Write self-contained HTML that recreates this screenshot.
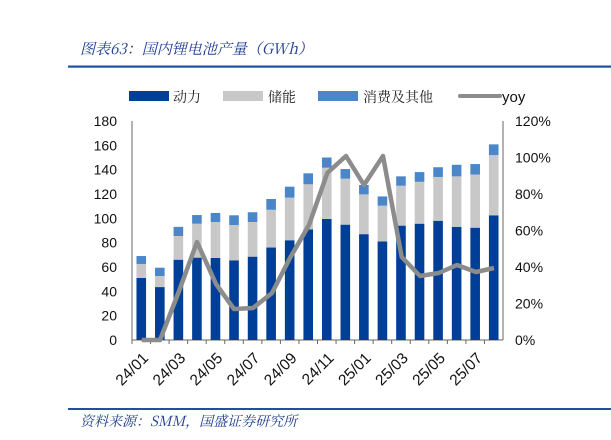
<!DOCTYPE html>
<html><head><meta charset="utf-8"><style>
html,body{margin:0;padding:0;background:#fff;}
svg{display:block;}
text{font-family:"Liberation Sans","Noto Sans CJK SC",sans-serif;}
.cn{font-family:"Noto Serif CJK SC","Noto Sans CJK SC",serif;}
</style></head><body>
<svg width="611" height="440" viewBox="0 0 611 440" xmlns="http://www.w3.org/2000/svg">
<text x="80" y="54" font-size="15" fill="#1f3d8f" font-style="italic" class="cn">图表63：国内锂电池产量（GWh）</text>
<rect x="68" y="65.5" width="543" height="2.2" fill="#1f4fa0"/>
<rect x="129" y="91" width="40" height="10" fill="#003f98"/>
<text x="173" y="102" font-size="14" class="cn" fill="#222">动力</text>
<rect x="223" y="91" width="40" height="10" fill="#c8c8c8"/>
<text x="268" y="102" font-size="14" class="cn" fill="#222">储能</text>
<rect x="318" y="91" width="40" height="10" fill="#4a86c8"/>
<text x="363" y="102" font-size="14" class="cn" fill="#222">消费及其他</text>
<line x1="460" y1="96" x2="500" y2="96" stroke="#8c8c8c" stroke-width="4" stroke-linecap="round"/>
<text x="502" y="102" font-size="15" fill="#111">yoy</text>
<g font-size="14" fill="#111" text-anchor="end">
<text x="117" y="345">0</text><text x="117" y="320.7">20</text><text x="117" y="296.4">40</text><text x="117" y="272">60</text><text x="117" y="247.7">80</text><text x="117" y="223.4">100</text><text x="117" y="199">120</text><text x="117" y="174.7">140</text><text x="117" y="150.4">160</text><text x="117" y="126">180</text>
</g>
<g font-size="14" fill="#111">
<text x="515" y="345">0%</text><text x="515" y="308.5">20%</text><text x="515" y="272">40%</text><text x="515" y="235.5">60%</text><text x="515" y="199">80%</text><text x="515" y="162.5">100%</text><text x="515" y="126">120%</text>
</g>
<g stroke="#666" stroke-width="1">
<line x1="132" y1="121" x2="132" y2="340"/>
<line x1="503" y1="121" x2="503" y2="340"/>
<line x1="132" y1="340" x2="503" y2="340"/>
</g>
<g id="bars"></g>
<polyline fill="none" stroke="#8c8c8c" stroke-width="4.5" stroke-linejoin="round" points="141.7,340 160,340 178.7,292 197,242 216,284 234,309 253,308 272,293 290,258 309,225 327.3,173 346,156 364,185 383,156 401.7,257 420,276 438.7,273 457,265 476,272 494,268"/>
<g font-size="15.5" fill="#111" text-anchor="end" id="xl"></g>
<rect x="68" y="408" width="543" height="2" fill="#1f4fa0"/>
<text x="80" y="426" font-size="14" fill="#1f3d8f" font-style="italic" class="cn">资料来源：SMM，国盛证券研究所</text>
<script>
var d=[[51,62.5,69],[43.5,52.6,59.4],[66,85.5,93],[67.7,95.6,102.7],[67.4,97,104.4],[65.5,94.5,102.5],[68.5,97,105],[76,107,115.9],[82,117,126],[91,128,137],[99.5,141.6,150],[94.8,132.6,140.5],[87,119.7,127.4],[81,110.4,118],[94,126.8,134.5],[95.6,130,138],[98,134,142],[93,134.5,144],[92.3,136,144.6],[102.5,152,160.8]];
var ns="http://www.w3.org/2000/svg",g=document.getElementById("bars"),xl=document.getElementById("xl");
var k=219/180,labs=["24/01","24/03","24/05","24/07","24/09","24/11","25/01","25/03","25/05","25/07"];
function r(x,y,w,h,c){var e=document.createElementNS(ns,"rect");e.setAttribute("x",x);e.setAttribute("y",y);e.setAttribute("width",w);e.setAttribute("height",h);e.setAttribute("fill",c);g.appendChild(e);}
for(var i=0;i<20;i++){var cx=132+18.55*(i+0.5),x=cx-4.8,v=d[i];
var yb=340-v[0]*k,yg=340-v[1]*k,yt=340-v[2]*k;
r(x,yb,9.6,340-yb,"#003f98");r(x,yg,9.6,yb-yg,"#c8c8c8");r(x,yt,9.6,yg-yt,"#4a86c8");
var t=document.createElementNS(ns,"line");t.setAttribute("x1",132+18.55*i);t.setAttribute("x2",132+18.55*i);t.setAttribute("y1",340);t.setAttribute("y2",344);t.setAttribute("stroke","#666");g.appendChild(t);
if(i%2==0){var tx=document.createElementNS(ns,"text");tx.setAttribute("transform","translate("+(cx+8)+",359) rotate(-45)");tx.textContent=labs[i/2];xl.appendChild(tx);}}
</script>
</svg>
</body></html>
